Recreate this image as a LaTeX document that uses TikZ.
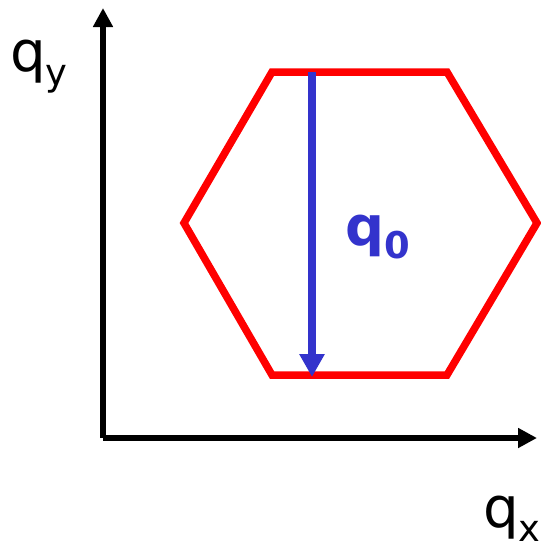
\documentclass[tikz,border=0pt]{standalone}
\usepackage{fontspec}
\setmainfont{DejaVu Sans}
\usepackage{xcolor}
\usetikzlibrary{arrows.meta, positioning}
\definecolor{C_HEX}{HTML}{FF0000}
\definecolor{C_VEC}{HTML}{3333CC}
\newcommand{\qsub}[1]{q\raisebox{-0.25em}{\fontsize{21}{24}\selectfont #1}}

\begin{document}
\begin{tikzpicture}[
  x=0.02cm, y=-0.02cm,
  axis/.style={line width=0.12cm, -{Triangle[length=0.38cm, width=0.38cm]}},
  hexline/.style={line width=0.15cm, draw=C_HEX, line join=miter},
  vec/.style={line width=0.17cm, draw=C_VEC, -{Triangle[length=0.46cm, width=0.48cm]}},
  axlabel/.style={font=\fontsize{32}{36}\selectfont, inner sep=0pt},
  veclabel/.style={font=\fontsize{31}{36}\selectfont\bfseries, text=C_VEC, inner sep=0pt},
]
\useasboundingbox (0,0) rectangle (541,549);

%% axes
\coordinate (O)  at (103,438);
\coordinate (ytip) at (103,8);
\coordinate (xtip) at (537,438);
\draw[axis] (O) -- (ytip);
\draw[axis] (O) -- (xtip);
\node[axlabel] (qy) at (39,67) {\qsub{y}};
\node[axlabel] (qx) at (512,519) {\qsub{x}};

%% hexagon
\coordinate (h1) at (272,72);
\coordinate (h2) at (447,72);
\coordinate (h3) at (537,223);
\coordinate (h4) at (447,375);
\coordinate (h5) at (272,375);
\coordinate (h6) at (184,223);
\draw[hexline] (h1) -- (h2) -- (h3) -- (h4) -- (h5) -- (h6) -- cycle;

%% q0 vector
\coordinate (top) at (312,72);
\coordinate (bot) at (312,377);
\draw[vec] (top) -- (bot);
\node[veclabel] (q0) at (378,237) {\qsub{0}};

\end{tikzpicture}
\end{document}
